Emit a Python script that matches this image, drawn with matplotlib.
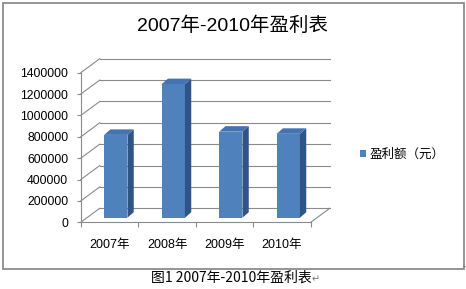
import matplotlib
matplotlib.use("Agg")
import matplotlib.pyplot as plt
from matplotlib.patches import Polygon, Rectangle
from matplotlib.lines import Line2D

plt.rcParams['font.family'] = ['Liberation Sans', 'Noto Sans CJK SC']

# ---- data ----
categories = ['2007年', '2008年', '2009年', '2010年']
profits = [775000, 1250000, 805000, 785000]
series_name = '盈利额（元）'
yticks = [0, 200000, 400000, 600000, 800000, 1000000, 1200000, 1400000]
title = '2007年-2010年盈利表'
caption = '图1 2007年-2010年盈利表'

# ---- figure / axes layout (pixels) ----
W, H = 466, 289
fig = plt.figure(figsize=(W / 100, H / 100), dpi=100)
ax_l, ax_r = 80.75, 310.75          # front plane x range in px
ax_b, ax_t = 222.3, 72.7            # front plane y range in px (from top)
ax = fig.add_axes([ax_l / W, 1 - ax_b / H, (ax_r - ax_l) / W, (ax_b - ax_t) / H])
n = len(categories)
ax.set_xlim(-0.5, n - 0.5)
ax.set_ylim(0, yticks[-1])
ax.patch.set_alpha(0)

# data units per pixel
ux = n / (ax_r - ax_l)
uy = yticks[-1] / (ax_b - ax_t)

grid_c = '#8a8a8a'
# wall depth vector
wdx, wdy = 19 * ux, 14 * uy
x0w, x1w = -0.5, n - 0.5
for v in yticks:
    # left wall diagonal
    ax.plot([x0w, x0w + wdx], [v, v + wdy], color=grid_c, lw=0.8, clip_on=False, zorder=1)
    # back wall gridline
    ax.plot([x0w + wdx, x1w + wdx], [v + wdy, v + wdy], color=grid_c, lw=0.8, clip_on=False, zorder=1)
# floor right edge
ax.plot([x1w, x1w + wdx], [0, wdy], color=grid_c, lw=0.8, clip_on=False, zorder=1)

# ---- 3D bars ----
bw = 23.3 * ux
bfx, bfy = 6.3 * ux, 4.6 * uy      # front face offset (depth)
bdx, bdy = 6.3 * ux, 5.5 * uy      # bar depth
front_c, side_c, top_c = '#4f81bd', '#2f5485', '#4373b0'
xs = [i + bfx for i in range(n)]
bars = ax.bar(xs, profits, width=bw, bottom=bfy, color=front_c, zorder=3,
              clip_on=False, label=series_name)
for x, v in zip(xs, profits):
    xl, xr = x - bw / 2, x + bw / 2
    yb, yt = bfy, bfy + v
    side = Polygon([(xr, yb), (xr + bdx, yb + bdy), (xr + bdx, yt + bdy), (xr, yt)],
                   closed=True, facecolor=side_c, edgecolor='none', zorder=3, clip_on=False)
    top = Polygon([(xl, yt), (xr, yt), (xr + bdx, yt + bdy), (xl + bdx, yt + bdy)],
                  closed=True, facecolor=top_c, edgecolor='none', zorder=3, clip_on=False)
    ax.add_patch(side)
    ax.add_patch(top)

# ---- axes styling ----
for s in ['top', 'right']:
    ax.spines[s].set_visible(False)
ax.spines['left'].set_color(grid_c)
ax.spines['bottom'].set_color(grid_c)
ax.spines['left'].set_linewidth(0.8)
ax.spines['bottom'].set_linewidth(0.8)

ax.set_yticks(yticks)
ax.set_yticklabels([str(v) for v in yticks])
ax.tick_params(axis='y', length=3, width=0.8, color=grid_c, pad=6, labelsize=8.8)

ax.set_xticks(range(n))
ax.set_xticklabels(categories)
ax.set_xticks([i - 0.5 for i in range(n + 1)], minor=True)
ax.tick_params(axis='x', which='major', length=0, pad=12, labelsize=9)
ax.tick_params(axis='x', which='minor', length=3.4, width=0.8, color=grid_c)

# ---- legend ----
fig.legend(handles=[bars], labels=[series_name], loc='center left',
           bbox_to_anchor=(359.5 / W, 1 - 154.5 / H), frameon=False,
           fontsize=9, handlelength=0.5, handleheight=0.5, handletextpad=0.3,
           borderpad=0, borderaxespad=0)

# ---- title ----
fig.text(232 / W, 1 - 26 / H, title, ha='center', va='center', fontsize=14)

# ---- chart border ----
fig.patches.append(Rectangle((2.5 / W, 1 - 269 / H), 461 / W, 266.5 / H,
                             transform=fig.transFigure, fill=False,
                             edgecolor='#8c8c8c', lw=1.3))
fig.lines.append(Line2D([463 / W, 466 / W], [1 - 265.5 / H, 1 - 265.5 / H],
                        transform=fig.transFigure, color='#8c8c8c', lw=0.8))

# ---- caption ----
t = fig.text(150.7 / W, 1 - 277.5 / H, caption, ha='left', va='center', fontsize=10,
             family=['Noto Sans CJK SC', 'DejaVu Sans'])
fig.text(312 / W, 1 - 279 / H, '↵', ha='left', va='center', fontsize=7,
         color='#777777', family=['DejaVu Sans'])

fig.savefig('out.png', dpi=100)
